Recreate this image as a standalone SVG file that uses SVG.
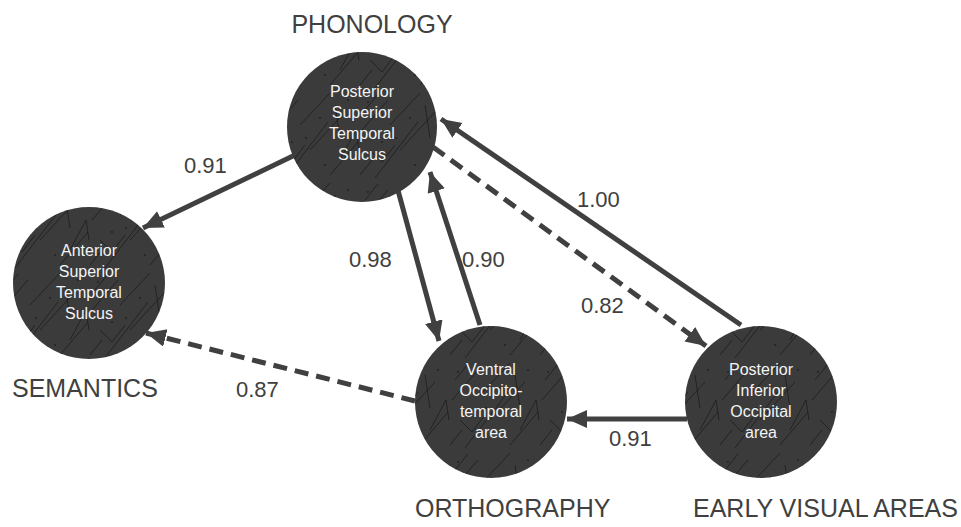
<svg xmlns="http://www.w3.org/2000/svg" width="961" height="527" viewBox="0 0 961 527">
<style>
.node{fill:#3b3b3b;}
.tex{fill:url(#scratch);}
.nt{font-family:"Liberation Sans",Arial,sans-serif;font-size:16px;fill:#f4f4f4;text-anchor:middle;}
.lab{font-family:"Liberation Sans",Arial,sans-serif;font-size:25px;fill:#404040;}
.num{font-family:"Liberation Sans",Arial,sans-serif;font-size:22px;fill:#404040;}
.edge{stroke:#404040;stroke-width:5;fill:none;marker-end:url(#ah);}
.dash{stroke-dasharray:14 8;}
</style>
<defs>
<marker id="ah" markerUnits="userSpaceOnUse" markerWidth="22" markerHeight="20" refX="20" refY="9" orient="auto">
<path d="M0,0 L20,9 L0,18 z" fill="#404040"/>
</marker>
<pattern id="scratch" patternUnits="userSpaceOnUse" width="90" height="90">
<g stroke="#111" stroke-width="0.8" fill="none" opacity="0.8">
<path d="M2,40 L28,10"/><path d="M15,88 L58,32"/><path d="M30,35 L60,3"/><path d="M5,20 L18,4"/><path d="M60,85 L88,52"/><path d="M10,60 L22,72 L35,55"/><path d="M65,15 L70,48"/><path d="M40,60 L75,22"/><path d="M70,70 L86,40 L89,60"/><path d="M0,85 L12,70"/>
</g>
<g fill="#111" opacity="0.7"><circle cx="8" cy="12" r="0.9"/><circle cx="36" cy="48" r="0.9"/><circle cx="50" cy="28" r="0.9"/><circle cx="22" cy="52" r="0.9"/><circle cx="78" cy="10" r="0.9"/><circle cx="55" cy="75" r="0.9"/></g>
</pattern>
</defs>
<g id="connectors">
<line class="edge" x1="295" y1="155" x2="143" y2="228"/>
<line class="edge" x1="393" y1="172" x2="439" y2="341"/>
<line class="edge" x1="480" y1="325" x2="430" y2="172"/>
<line class="edge" x1="741" y1="325" x2="441" y2="119"/>
<line class="edge dash" x1="433" y1="147" x2="706" y2="346"/>
<line class="edge dash" x1="415" y1="401" x2="146" y2="333"/>
<line class="edge" x1="687" y1="419" x2="567" y2="419"/>
</g>
<g id="edge-labels">
<text class="num" x="184" y="173">0.91</text>
<text class="num" x="577" y="207">1.00</text>
<text class="num" x="462" y="267">0.90</text>
<text class="num" x="349" y="267">0.98</text>
<text class="num" x="581" y="313">0.82</text>
<text class="num" x="236" y="397">0.87</text>
<text class="num" x="609" y="446">0.91</text>
</g>
<g id="phonology">
<circle class="node" cx="362" cy="127" r="75"/>
<circle class="tex" cx="362" cy="127" r="75"/>
<text class="nt" x="362" y="97">Posterior</text>
<text class="nt" x="362" y="118">Superior</text>
<text class="nt" x="362" y="139">Temporal</text>
<text class="nt" x="362" y="160">Sulcus</text>
<text class="lab" x="372" y="33" text-anchor="middle">PHONOLOGY</text>
</g>
<g id="semantics">
<circle class="node" cx="89" cy="283" r="76"/>
<circle class="tex" cx="89" cy="283" r="76"/>
<text class="nt" x="89" y="256">Anterior</text>
<text class="nt" x="89" y="277">Superior</text>
<text class="nt" x="89" y="298">Temporal</text>
<text class="nt" x="89" y="319">Sulcus</text>
<text class="lab" x="12" y="397">SEMANTICS</text>
</g>
<g id="orthography">
<circle class="node" cx="491" cy="402" r="76"/>
<circle class="tex" cx="491" cy="402" r="76"/>
<text class="nt" x="491" y="375">Ventral</text>
<text class="nt" x="491" y="396">Occipito-</text>
<text class="nt" x="491" y="417">temporal</text>
<text class="nt" x="491" y="438">area</text>
<text class="lab" x="415" y="517">ORTHOGRAPHY</text>
</g>
<g id="early-visual">
<circle class="node" cx="761" cy="402" r="76"/>
<circle class="tex" cx="761" cy="402" r="76"/>
<text class="nt" x="761" y="375">Posterior</text>
<text class="nt" x="761" y="396">Inferior</text>
<text class="nt" x="761" y="417">Occipital</text>
<text class="nt" x="761" y="438">area</text>
<text class="lab" x="693" y="517">EARLY VISUAL AREAS</text>
</g>
</svg>
